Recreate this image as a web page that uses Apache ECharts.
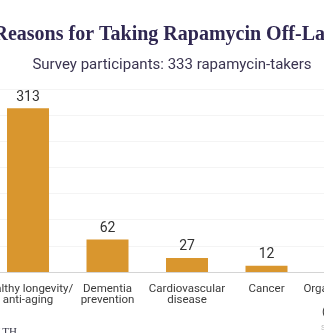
<!DOCTYPE html>
<html>
<head>
<meta charset="utf-8">
<script src="https://cdn.jsdelivr.net/npm/echarts@6/dist/echarts.min.js"></script>
<style>
html,body{margin:0;padding:0;background:#fff;}
#chart{width:324px;height:333px;}
</style>
</head>
<body>
<div id="chart"></div>
<script>
var titleText = "Reasons for Taking Rapamycin Off-Label";
var subtitleText = "Survey participants: 333 rapamycin-takers";
var categories = ["healthy longevity/\nanti-aging", "Dementia\nprevention", "Cardiovascular\ndisease", "Cancer", "Organ transplant\n\n(or other)"];
var values = [313, 62, 27, 12, 5];
var yTicks = [0, 50, 100, 150, 200, 250, 300, 350];

var chart = echarts.init(document.getElementById('chart'), null, {renderer: 'canvas'});
chart.setOption({
  backgroundColor: '#ffffff',
  animation: false,
  title: [{
    text: titleText,
    left: 167, top: 20, textAlign: 'center',
    textStyle: {fontFamily: 'Liberation Serif', fontWeight: 'bold', fontSize: 20, color: '#2f2751'}
  }, {
    text: subtitleText,
    left: 167, top: 53, textAlign: 'center',
    textStyle: {fontFamily: 'Roboto', fontWeight: 'normal', fontSize: 15, color: '#3a3450'}
  }],
  grid: {left: -11.75, top: 89, width: 397.5, bottom: 61, containLabel: false, outerBoundsMode: 'none'},
  xAxis: {
    type: 'category', data: categories,
    axisLine: {lineStyle: {color: '#d4d4d4', width: 1}},
    axisTick: {show: false},
    axisLabel: {interval: 0, margin: 11, fontFamily: 'Roboto', fontSize: 11.5, lineHeight: 11.5, color: '#3a3a3a', hideOverlap: false}
  },
  yAxis: {
    type: 'value', min: yTicks[0], max: yTicks[yTicks.length - 1], interval: 50,
    axisLabel: {show: false}, axisLine: {show: false}, axisTick: {show: false},
    splitLine: {lineStyle: {color: '#f4f4f4', width: 1}}
  },
  series: [{
    type: 'bar', data: values, barWidth: 42,
    itemStyle: {color: '#d9962e'},
    label: {show: true, position: 'top', distance: 4, fontFamily: 'Roboto', fontSize: 14, color: '#333333'}
  }],
  graphic: [{
    type: 'text', right: 307, top: 327,
    style: {text: 'HEALTH', fontFamily: 'Liberation Serif', fontSize: 11, fill: '#333344'}
  }, {
    type: 'text', left: 321, top: 324,
    style: {text: 'Source', fontFamily: 'Roboto', fontSize: 8, fill: '#bbbbbb'}
  }]
});
</script>
</body>
</html>
